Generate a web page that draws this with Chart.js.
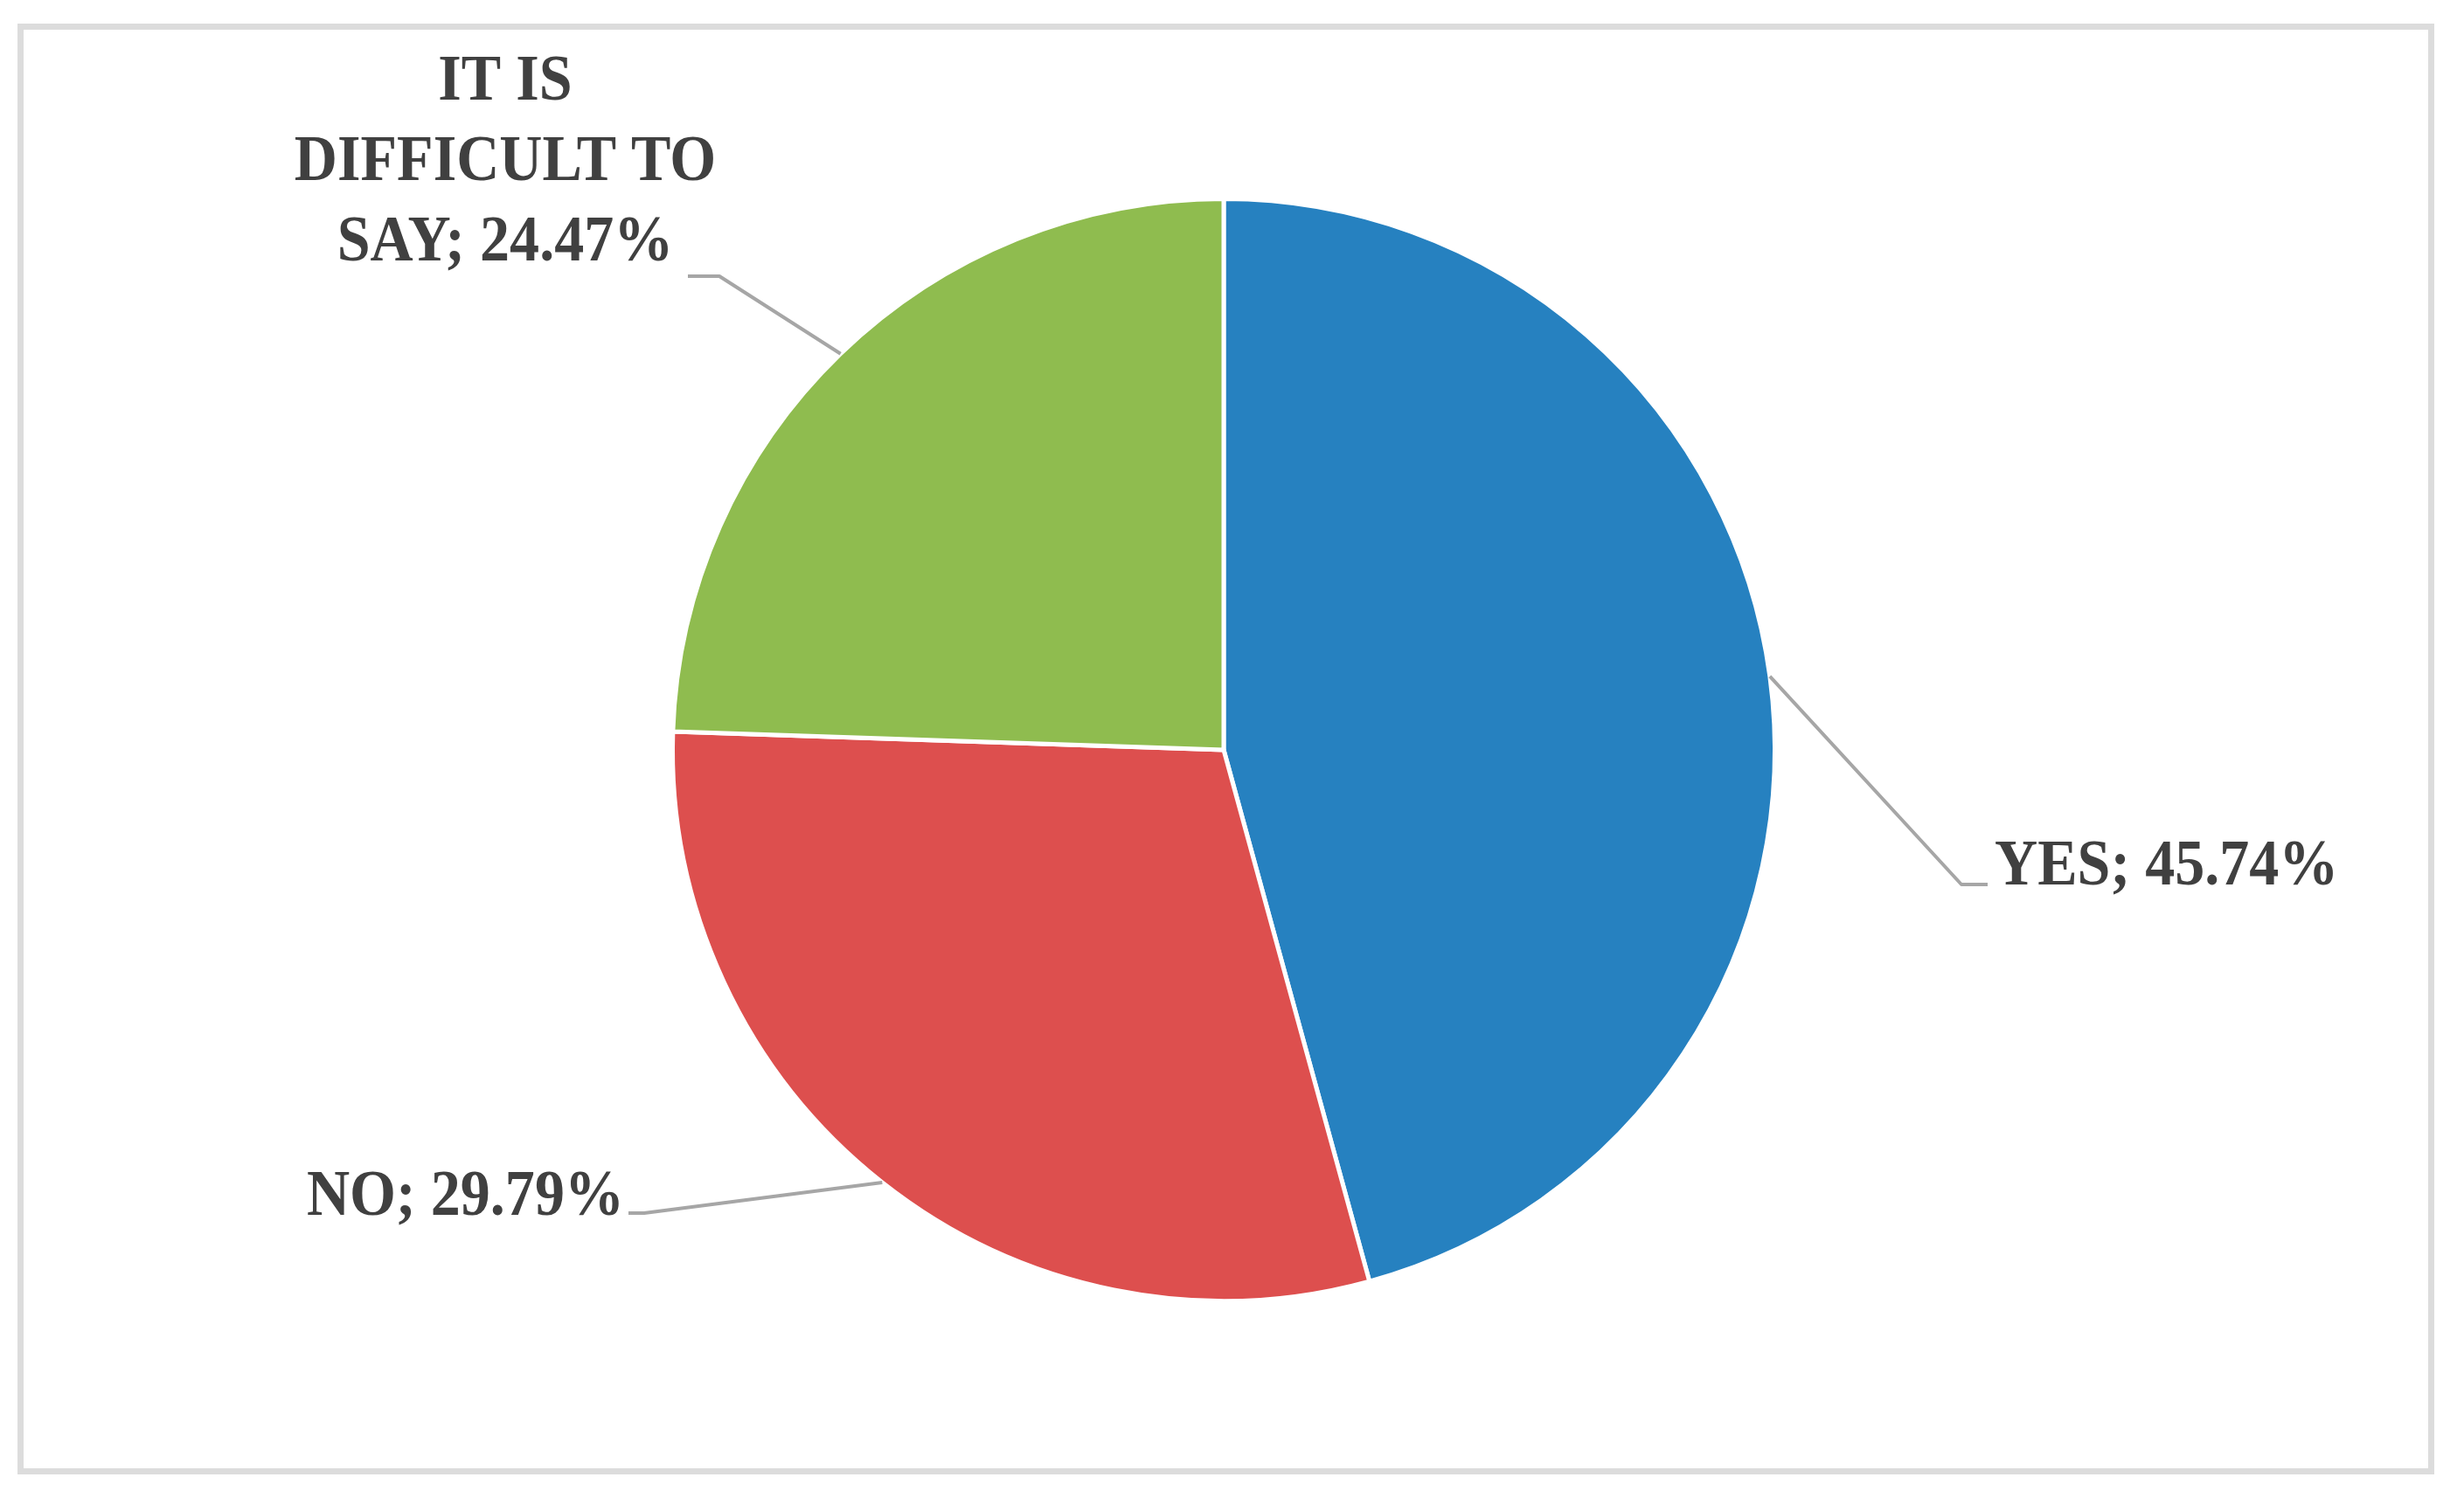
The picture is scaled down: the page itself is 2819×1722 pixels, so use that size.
<!DOCTYPE html>
<html>
<head>
<meta charset="utf-8">
<script src="https://cdn.jsdelivr.net/npm/chart.js@4/dist/chart.umd.min.js"></script>
<style>
  html, body { margin: 0; padding: 0; background: #ffffff; }
  #wrap { position: relative; width: 2819px; height: 1722px; overflow: hidden; }
  #frame { position: absolute; left: 20px; top: 27px; width: 2751px; height: 1646px; border: 7px solid #dcdcdc; }
  #c { position: absolute; left: 0; top: 0; }
</style>
</head>
<body>
<div id="wrap">
  <div id="frame"></div>
  <canvas id="c" width="2819" height="1722"></canvas>
</div>
<script>
// ---- data ----
const categories = ['YES', 'NO', 'IT IS DIFFICULT TO SAY'];
const values = [45.74, 29.79, 24.47];
const colors = ['#2681c0', '#dd4f4e', '#8fbc4f'];

// ---- label layout (positions of the text boxes, not data) ----
const labelLayout = [
  { align: 'left',   x: 2282, y: 1012, wrap: 0,   elbow: [2244, 1012], end: [2274, 1012] },
  { align: 'right',  x: 714,  y: 1390, wrap: 0,   elbow: [737, 1388],  end: [719, 1388] },
  { align: 'center', x: 578,  y: 114,  wrap: 520, elbow: [823, 316],   end: [787, 316] }
];
const labelFont = 'bold 74px "Liberation Serif", "Times New Roman", serif';
const textScaleX = 0.92;
const lineHeight = 92;

function wrapText(ctx, text, maxW) {
  if (!maxW) return [text];
  const words = text.split(' ');
  const lines = [];
  let cur = '';
  for (const w of words) {
    const t = cur ? cur + ' ' + w : w;
    if (cur && ctx.measureText(t).width * textScaleX > maxW) { lines.push(cur); cur = w; }
    else cur = t;
  }
  if (cur) lines.push(cur);
  return lines;
}

const labelPlugin = {
  id: 'pieLabels',
  afterDatasetsDraw(chart) {
    const ctx = chart.ctx;
    const meta = chart.getDatasetMeta(0);
    meta.data.forEach((arc, i) => {
      const p = arc.getProps(['x', 'y', 'startAngle', 'endAngle', 'outerRadius'], true);
      const mid = (p.startAngle + p.endAngle) / 2;
      const ax = p.x + Math.cos(mid) * p.outerRadius;
      const ay = p.y + Math.sin(mid) * p.outerRadius;
      const L = labelLayout[i];
      ctx.save();
      ctx.strokeStyle = '#a6a6a6';
      ctx.lineWidth = 4;
      ctx.lineJoin = 'round';
      ctx.beginPath();
      ctx.moveTo(ax, ay);
      ctx.lineTo(L.elbow[0], L.elbow[1]);
      ctx.lineTo(L.end[0], L.end[1]);
      ctx.stroke();
      ctx.restore();

      ctx.save();
      ctx.font = labelFont;
      ctx.fillStyle = '#404040';
      ctx.textAlign = L.align;
      ctx.textBaseline = 'alphabetic';
      const text = categories[i] + '; ' + values[i].toFixed(2) + '%';
      const lines = wrapText(ctx, text, L.wrap);
      ctx.translate(L.x, L.y);
      ctx.scale(textScaleX, 1);
      lines.forEach((ln, k) => ctx.fillText(ln, 0, k * lineHeight));
      ctx.restore();
    });
  }
};

new Chart(document.getElementById('c'), {
  type: 'pie',
  data: {
    labels: categories,
    datasets: [{
      data: values,
      backgroundColor: colors,
      borderColor: '#ffffff',
      borderWidth: 5
    }]
  },
  options: {
    responsive: false,
    animation: false,
    layout: { padding: { top: 225, bottom: 231, left: 0, right: 19 } },
    plugins: {
      legend: { display: false },
      tooltip: { enabled: false },
      title: { display: false }
    }
  },
  plugins: [labelPlugin]
});
</script>
</body>
</html>
